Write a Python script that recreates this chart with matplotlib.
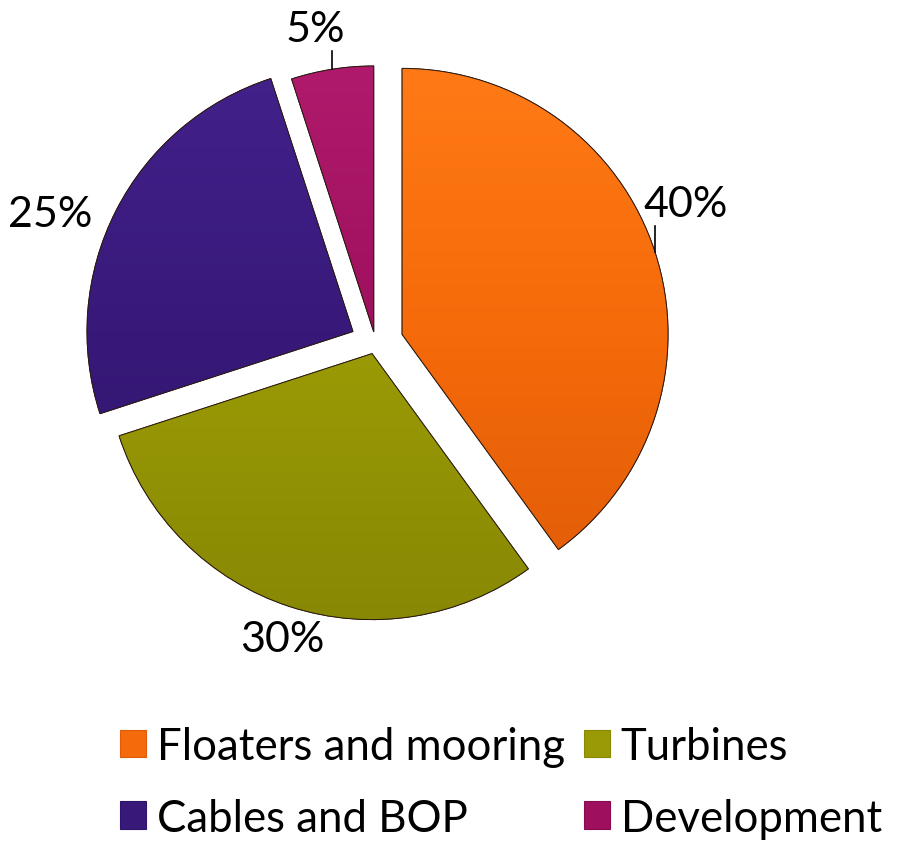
import numpy as np
import matplotlib.pyplot as plt
from matplotlib.patches import Patch, Wedge
from matplotlib.colors import LinearSegmentedColormap

plt.rcParams['font.family'] = ['Lato', 'DejaVu Sans']

categories = ["Floaters and mooring", "Turbines", "Cables and BOP", "Development"]
shares = [40, 30, 25, 5]
labels = ["40%", "30%", "25%", "5%"]
colors = ["#F56A0A", "#9A9A06", "#38197A", "#9E105D"]
light = ["#FF7A16", "#AAAA10", "#42218A", "#B01A6C"]
dark = ["#E05C08", "#888804", "#2E136A", "#8A0A50"]
explode = [0.105, 0.042, 0.095, 0.042]

# label text positions (pixels from top-left) and whether a leader line is drawn
label_pos = [(686, 205), (282, 640), (50, 215), (315, 30)]
leader = [True, False, False, True]

W, H = 897, 845
R = 266
cx, cy = 375.5, H - 344

fig = plt.figure(figsize=(W / 100, H / 100), dpi=100)
ax = fig.add_axes([0, 0, 1, 1])

wedges, _ = ax.pie(shares, colors=colors, startangle=90, counterclock=False,
                   explode=[e * R for e in explode], radius=R, center=(cx, cy), frame=True,
                   wedgeprops=dict(edgecolor="#3a2a20", linewidth=0.6))

# vertical gradient fill clipped to each wedge
for w, lo, hi in zip(wedges, dark, light):
    cmap = LinearSegmentedColormap.from_list("g", [lo, w.get_facecolor(), hi])
    x0, y0 = w.center
    grad = np.linspace(0, 1, 256).reshape(-1, 1)
    im = ax.imshow(grad, cmap=cmap, origin="lower", aspect="auto",
                   extent=(x0 - R, x0 + R, y0 - R, y0 + R), zorder=w.get_zorder() + 0.1)
    im.set_clip_path(w)
    ax.add_patch(Wedge(w.center, R, w.theta1, w.theta2, fill=False,
                       edgecolor="#2a1a10", linewidth=0.7, zorder=w.get_zorder() + 0.2))

ax.set_xlim(0, W)
ax.set_ylim(0, H)
ax.set_aspect("equal")
ax.axis("off")

for w, txt, (tx, ty), has_line in zip(wedges, labels, label_pos, leader):
    ax.text(tx, H - ty, txt, fontsize=31, ha="center", va="center", color="black")
    if has_line:
        mid = np.deg2rad((w.theta1 + w.theta2) / 2)
        px = w.center[0] + R * np.cos(mid)
        py = w.center[1] + R * np.sin(mid)
        ax.plot([px, px], [py, H - ty - 22], color="black", linewidth=1.2, zorder=5)

# legend fills column by column, so order entries to read row by row
order = [0, 2, 1, 3]
handles = [Patch(facecolor=colors[i], edgecolor=dark[i], linewidth=0.8) for i in order]
fig.legend(handles, [categories[i] for i in order], ncol=2, loc="upper left",
           bbox_to_anchor=(120 / W, 1 - 727 / H),
           frameon=False, fontsize=31.5, handlelength=0.6, handleheight=0.6,
           handletextpad=0.25, columnspacing=0.42, labelspacing=0.7, borderpad=0,
           borderaxespad=0)

fig.savefig("out.png", dpi=100)
